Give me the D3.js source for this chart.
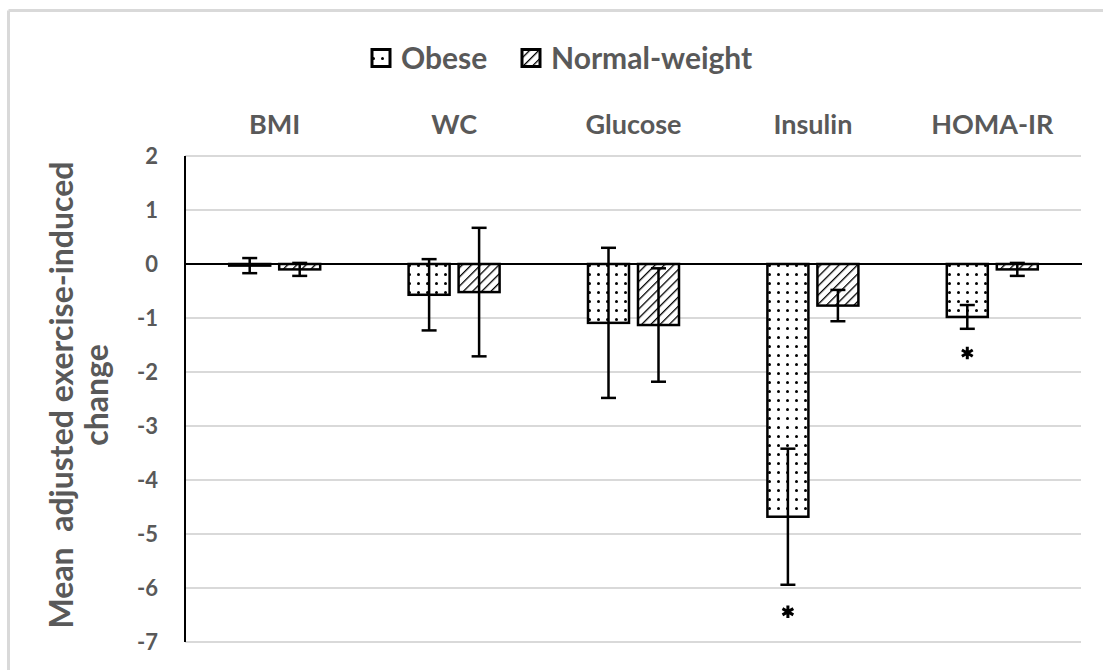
<!DOCTYPE html>
<html>
<head>
<meta charset="utf-8">
<script src="https://cdn.jsdelivr.net/npm/d3@7"></script>
<style>
  html, body { margin: 0; padding: 0; background: #fff; }
  svg { display: block; }
  text { font-family: Lato, "Open Sans", sans-serif; font-weight: bold; }
</style>
</head>
<body>
<svg id="chart" width="1103" height="670"></svg>
<script>
// ---- data ----
const categories = ["BMI", "WC", "Glucose", "Insulin", "HOMA-IR"];
const seriesNames = ["Obese", "Normal-weight"];
const obeseMean = [-0.03, -0.57, -1.09, -4.68, -0.98];
const obeseErr = [0.14, 0.66, 1.39, 1.26, 0.22];
const normalMean = [-0.10, -0.52, -1.13, -0.77, -0.10];
const normalErr = [0.12, 1.19, 1.05, 0.29, 0.12];
const yTicks = [2, 1, 0, -1, -2, -3, -4, -5, -6, -7];
const significant = [{cat: "Insulin", series: "Obese", y: -6.44}, {cat: "HOMA-IR", series: "Obese", y: -1.65}];
const yTitleLines = ["Mean  adjusted exercise-induced", "change"];

// ---- setup ----
const svg = d3.select("#chart");
const textColor = "#595959";
const gridColor = "#d9d9d9";

const x0 = d3.scaleBand().domain(categories).range([185, 1082]).paddingInner(0).paddingOuter(0);
const x1 = d3.scaleBand().domain(seriesNames).range([0, x0.bandwidth()]).paddingInner(0.18).paddingOuter(0.884);
const y = d3.scaleLinear().domain([-7, 2]).range([642, 156]);

// frame border (top & left visible)
svg.append("line").attr("x1", 8.5).attr("x2", 1103).attr("y1", 10.5).attr("y2", 10.5)
  .attr("stroke", gridColor).attr("stroke-width", 3);
svg.append("line").attr("x1", 8.5).attr("x2", 8.5).attr("y1", 10.5).attr("y2", 670)
  .attr("stroke", gridColor).attr("stroke-width", 3);

// patterns
const defs = svg.append("defs");
const dots = defs.append("pattern").attr("id", "dots").attr("patternUnits", "userSpaceOnUse")
  .attr("width", 9).attr("height", 9);
dots.append("rect").attr("width", 9).attr("height", 9).attr("fill", "#fff");
dots.append("circle").attr("cx", 4.5).attr("cy", 4.5).attr("r", 1.5).attr("fill", "#000");

const hatch = defs.append("pattern").attr("id", "hatch").attr("patternUnits", "userSpaceOnUse")
  .attr("width", 6.5).attr("height", 6.5).attr("patternTransform", "rotate(45)");
hatch.append("rect").attr("width", 6.5).attr("height", 6.5).attr("fill", "#fff");
hatch.append("line").attr("x1", 0).attr("x2", 0).attr("y1", 0).attr("y2", 6.5)
  .attr("stroke", "#000").attr("stroke-width", 2.6);

const fills = {"Obese": "url(#dots)", "Normal-weight": "url(#hatch)"};

// gridlines
svg.append("g").selectAll("line").data(yTicks.filter(t => t !== 0)).join("line")
  .attr("x1", 185).attr("x2", 1081)
  .attr("y1", d => y(d)).attr("y2", d => y(d))
  .attr("stroke", gridColor).attr("stroke-width", 1.8);

// y axis (labels)
const yAxis = d3.axisLeft(y).tickValues(yTicks).tickSize(0).tickPadding(27).tickFormat(d => String(d));
const gy = svg.append("g").attr("transform", "translate(185,0)").call(yAxis);
gy.select(".domain").remove();
gy.selectAll("text").attr("fill", textColor).style("font-size", "22px").style("font-family", "Lato, sans-serif").style("font-weight", "bold");

// build rows
const rows = [];
categories.forEach((c, i) => {
  rows.push({cat: c, series: "Obese", v: obeseMean[i], e: obeseErr[i]});
  rows.push({cat: c, series: "Normal-weight", v: normalMean[i], e: normalErr[i]});
});

// bars
svg.append("g").selectAll("rect").data(rows).join("rect")
  .attr("x", d => x0(d.cat) + x1(d.series))
  .attr("width", x1.bandwidth())
  .attr("y", d => y(Math.max(0, d.v)))
  .attr("height", d => Math.abs(y(d.v) - y(0)))
  .attr("fill", d => fills[d.series])
  .attr("stroke", "#000").attr("stroke-width", 2.5);

// error bars
const eg = svg.append("g").attr("stroke", "#000").attr("stroke-width", 2.5);
const cx = d => x0(d.cat) + x1(d.series) + x1.bandwidth() / 2;
eg.selectAll("line.v").data(rows).join("line").attr("class", "v")
  .attr("x1", cx).attr("x2", cx)
  .attr("y1", d => y(d.v + d.e)).attr("y2", d => y(d.v - d.e));
eg.selectAll("line.t").data(rows).join("line").attr("class", "t")
  .attr("x1", d => cx(d) - 7.5).attr("x2", d => cx(d) + 7.5)
  .attr("y1", d => y(d.v + d.e)).attr("y2", d => y(d.v + d.e));
eg.selectAll("line.b").data(rows).join("line").attr("class", "b")
  .attr("x1", d => cx(d) - 7.5).attr("x2", d => cx(d) + 7.5)
  .attr("y1", d => y(d.v - d.e)).attr("y2", d => y(d.v - d.e));

// zero line and y axis line
svg.append("line").attr("x1", 185).attr("x2", 1082).attr("y1", y(0)).attr("y2", y(0))
  .attr("stroke", "#000").attr("stroke-width", 2);
svg.append("line").attr("x1", 185).attr("x2", 185).attr("y1", y(2)).attr("y2", y(-7))
  .attr("stroke", "#000").attr("stroke-width", 2);

// significance asterisks
svg.append("g").selectAll("path").data(significant).join("path")
  .attr("transform", d => `translate(${x0(d.cat) + x1(d.series) + x1.bandwidth() / 2},${y(d.y)})`)
  .attr("d", d3.symbol(d3.symbolAsterisk, 110))
  .attr("stroke", "#000").attr("stroke-width", 3).attr("fill", "none");

// category labels
svg.append("g").selectAll("text").data(categories).join("text")
  .attr("x", d => x0(d) + x0.bandwidth() / 2).attr("y", 134)
  .attr("text-anchor", "middle").attr("fill", textColor)
  .style("font-size", "27px").text(d => d);

// legend
const legendItems = [
  {name: "Obese", bx: 372, tx: 401},
  {name: "Normal-weight", bx: 522, tx: 551}
];
const lg = svg.append("g");
lg.selectAll("rect").data(legendItems).join("rect")
  .attr("x", d => d.bx).attr("y", 49.5).attr("width", 18).attr("height", 17)
  .attr("fill", d => fills[d.name]).attr("stroke", "#000").attr("stroke-width", 3);
lg.selectAll("text").data(legendItems).join("text")
  .attr("x", d => d.tx).attr("y", 68.5).attr("fill", textColor)
  .style("font-size", "30px").text(d => d.name);

// y axis title
const tt = svg.append("text").attr("transform", `translate(0,${(y(2) + y(-7)) / 2 - 4}) rotate(-90)`)
  .attr("text-anchor", "middle").attr("fill", textColor)
  .style("font-size", "32px").style("white-space", "pre").attr("xml:space", "preserve");
tt.selectAll("tspan").data(yTitleLines).join("tspan")
  .attr("x", 0).attr("y", (d, i) => 73 + i * 35).text(d => d);
</script>
</body>
</html>
